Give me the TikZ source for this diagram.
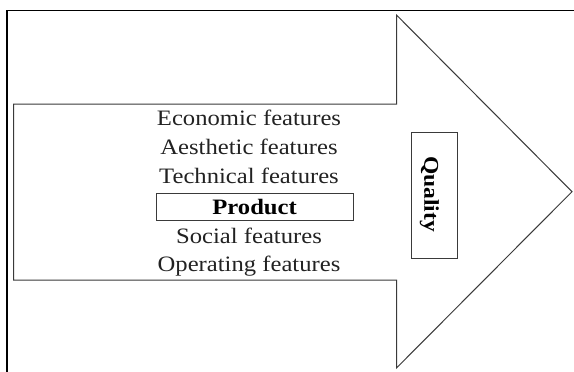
\documentclass[tikz,border=0pt]{standalone}
\usepackage{fontspec}
\setmainfont[FakeStretch=1.12]{Liberation Serif}
\definecolor{linegray}{HTML}{3A3A3A}
\definecolor{textgray}{HTML}{222222}
\begin{document}
\begin{tikzpicture}[x=1pt,y=-1pt,
  feat/.style={anchor=base,inner sep=0pt,text=textgray,font=\fontsize{22}{24}\selectfont},
  boxed/.style={draw=linegray,line width=1pt,inner sep=0pt,text=black,font=\fontsize{22}{24}\selectfont\bfseries},
  outline/.style={draw=linegray,line width=1pt,line join=miter}]
\useasboundingbox (0,0) rectangle (574,372);
\fill[white] (0,0) rectangle (574,372);
\draw[black,line width=1.6pt] (6.7,390) -- (6.7,10.3) -- (590,10.3);
\coordinate (s1) at (13.7,104);
\coordinate (s2) at (396.5,104);
\coordinate (h1) at (396.5,15);
\coordinate (tip) at (572,191.7);
\coordinate (h2) at (396.5,368);
\coordinate (s3) at (396.5,280);
\coordinate (s4) at (13.7,280);
\draw[outline] (s1) -- (s2) -- (h1) -- (tip) -- (h2) -- (s3) -- (s4) -- cycle;
\node[feat] (eco) at (249,125.5) {Economic features};
\node[feat] (aes) at (249,154.7) {Aesthetic features};
\node[feat] (tec) at (249,183) {Technical features};
\node[boxed,minimum width=197pt,minimum height=26.7pt] (prod) at (254.6,207.3) {Product};
\node[feat] (soc) at (249,243) {Social features};
\node[feat] (ope) at (249,271.5) {Operating features};
\node[boxed,minimum width=46pt,minimum height=126.7pt] (qbox) at (434.3,195.6) {};
\node[inner sep=0pt,rotate=-90,font=\fontsize{21}{24}\selectfont\bfseries] (qual) at (429.5,194) {Quality};
\end{tikzpicture}
\end{document}
